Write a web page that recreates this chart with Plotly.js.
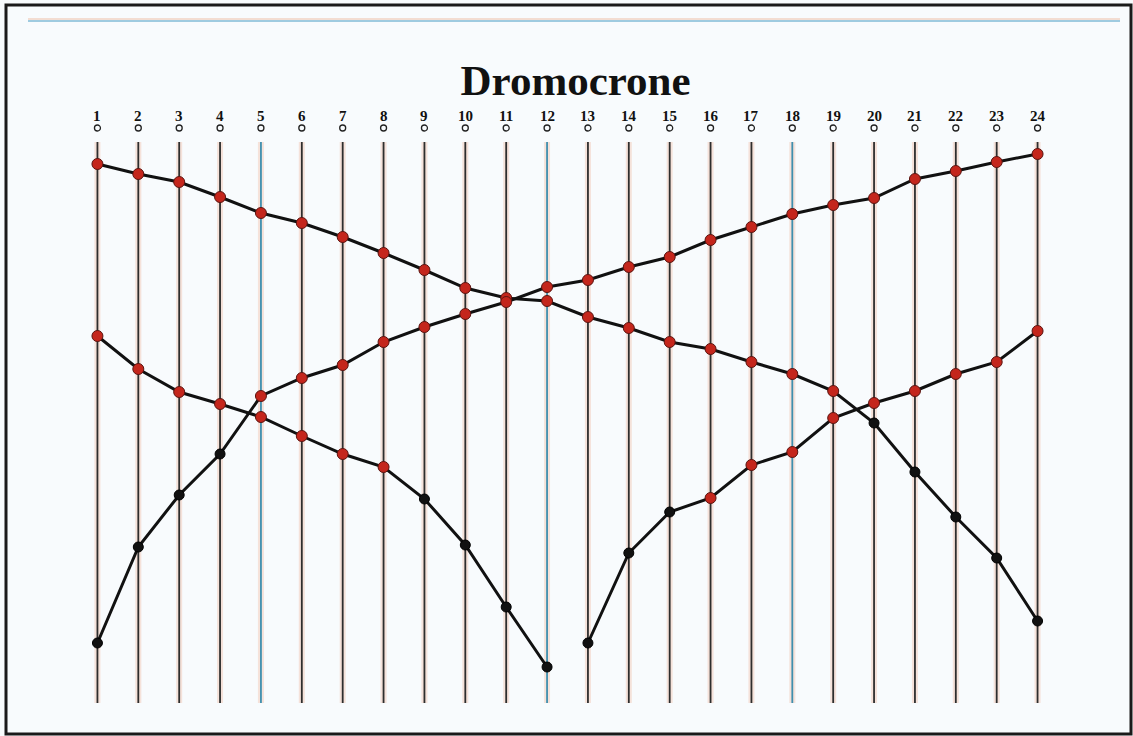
<!DOCTYPE html>
<html>
<head>
<meta charset="utf-8">
<script src="https://cdn.plot.ly/plotly-3.0.1.min.js"></script>
<style>html,body{margin:0;padding:0;background:#f8fbfd;}#chart{width:1133px;height:736px;}</style>
</head>
<body>
<div id="chart"></div>
<script>
// Geophone positions and labels
const geophones = [1,2,3,4,5,6,7,8,9,10,11,12,13,14,15,16,17,18,19,20,21,22,23,24];
const geophoneLabels = ['1','2','3','4','5','6','7','8','9','10','11','12','13','14','15','16','17','18','19','20','21','22','23','24'];
const blueGeophones = [5,12,18];

// Travel times (arbitrary units)
// Shot at the right end (geophone 24)
const shotRightX = [1,2,3,4,5,6,7,8,9,10,11,12,13,14,15,16,17,18,19,20,21,22,23,24];
const shotRightT = [539,529,521,506,490,480,466,450,433,415,405,402,386,375,361,354,341,329,312,280,231,186,145,82];
const shotRightRefracted = [1,1,1,1,1,1,1,1,1,1,1,1,1,1,1,1,1,1,1,0,0,0,0,0];

// Shot at the left end (geophone 1)
const shotLeftX = [1,2,3,4,5,6,7,8,9,10,11,12,13,14,15,16,17,18,19,20,21,22,23,24];
const shotLeftT = [60,156,208,249,307,325,338,361,376,389,401,416,423,436,446,463,476,489,498,505,524,532,541,549];
const shotLeftRefracted = [0,0,0,0,1,1,1,1,1,1,1,1,1,1,1,1,1,1,1,1,1,1,1,1];

// Centre shot, left branch
const centreLeftX = [1,2,3,4,5,6,7,8,9,10,11,12];
const centreLeftT = [367,334,311,299,286,267,249,236,204,158,96,36];
const centreLeftRefracted = [1,1,1,1,1,1,1,1,0,0,0,0];

// Centre shot, right branch
const centreRightX = [13,14,15,16,17,18,19,20,21,22,23,24];
const centreRightT = [60,150,191,205,238,251,285,300,312,329,341,372];
const centreRightRefracted = [0,0,0,1,1,1,1,1,1,1,1,1];

const Y_MAX = 561;
const RED = '#c4261c', BLACK = '#111111';

const branches = [
  [shotRightX, shotRightT, shotRightRefracted],
  [shotLeftX, shotLeftT, shotLeftRefracted],
  [centreLeftX, centreLeftT, centreLeftRefracted],
  [centreRightX, centreRightT, centreRightRefracted]
];

const traces = [];
// geophone vertical lines (halo + line)
geophones.forEach(g => {
  traces.push({x:[g,g], y:[0,Y_MAX], mode:'lines', line:{color:'rgba(240,170,140,0.3)', width:6}, hoverinfo:'skip', showlegend:false});
});
geophones.forEach(g => {
  const c = blueGeophones.includes(g) ? '#3f8fae' : '#2e2e2e';
  traces.push({x:[g,g], y:[0,Y_MAX], mode:'lines', line:{color:c, width:1.8}, hoverinfo:'skip', showlegend:false});
});
// travel-time curves
branches.forEach(([x,t]) => {
  traces.push({x:x, y:t, mode:'lines', line:{color:BLACK, width:3}, hoverinfo:'skip', showlegend:false});
});
branches.forEach(([x,t,r]) => {
  const rx=[], ry=[], bx=[], by=[];
  x.forEach((v,i)=>{ if(r[i]){rx.push(v);ry.push(t[i]);} else {bx.push(v);by.push(t[i]);} });
  traces.push({x:rx, y:ry, mode:'markers', marker:{color:RED, size:11, line:{color:'#5a1410', width:1}}, showlegend:false, cliponaxis:false});
  traces.push({x:bx, y:by, mode:'markers', marker:{color:BLACK, size:10, line:{color:'#000', width:1}}, showlegend:false, cliponaxis:false});
});

// geophone numbers as annotations, geophone symbols as small circles
const annotations = [];
const shapes = [];
geophones.forEach((g,i) => {
  annotations.push({x:g, xref:'x', y:1, yref:'paper', yanchor:'middle', yshift:26, showarrow:false,
    text:'<b>'+geophoneLabels[i]+'</b>', font:{family:'Liberation Serif, serif', size:15, color:'#111'}});
  shapes.push({type:'circle', xref:'x', xsizemode:'pixel', xanchor:g, x0:-3, x1:3,
    yref:'paper', ysizemode:'pixel', yanchor:1, y0:11, y1:17, line:{color:'#222', width:1.3}});
});

shapes.push(
  {type:'line', xref:'paper', yref:'paper', x0:(28-77)/981, x1:(1120-77)/981, y0:(703-19)/561, y1:(703-19)/561, line:{color:'#f3ddd2', width:2}},
  {type:'line', xref:'paper', yref:'paper', x0:(28-77)/981, x1:(1120-77)/981, y0:(703-21)/561, y1:(703-21)/561, line:{color:'#9fcbe0', width:2}},
  {type:'rect', xref:'paper', yref:'paper', x0:(6-77)/981, x1:(1131-77)/981, y0:(703-734)/561, y1:(703-5)/561, line:{color:'#1a1a1a', width:3}}
);

const layout = {
  width:1133, height:736,
  margin:{l:77, r:75, t:142, b:33},
  paper_bgcolor:'#f8fbfd', plot_bgcolor:'#f8fbfd',
  title:{text:'<b>Dromocrone</b>', font:{family:'Liberation Serif, serif', size:43, color:'#111'},
         x:0.508, xref:'container', xanchor:'center', y:1-80/736, yref:'container', yanchor:'middle'},
  xaxis:{range:[0.5,24.5], showgrid:false, zeroline:false, showticklabels:false, ticks:'', showline:false, fixedrange:true},
  yaxis:{range:[0,Y_MAX], showgrid:false, zeroline:false, showticklabels:false, ticks:'', showline:false, fixedrange:true},
  annotations: annotations,
  shapes: shapes,
  showlegend:false
};
Plotly.newPlot('chart', traces, layout, {displayModeBar:false, staticPlot:true});
</script>
</body>
</html>
